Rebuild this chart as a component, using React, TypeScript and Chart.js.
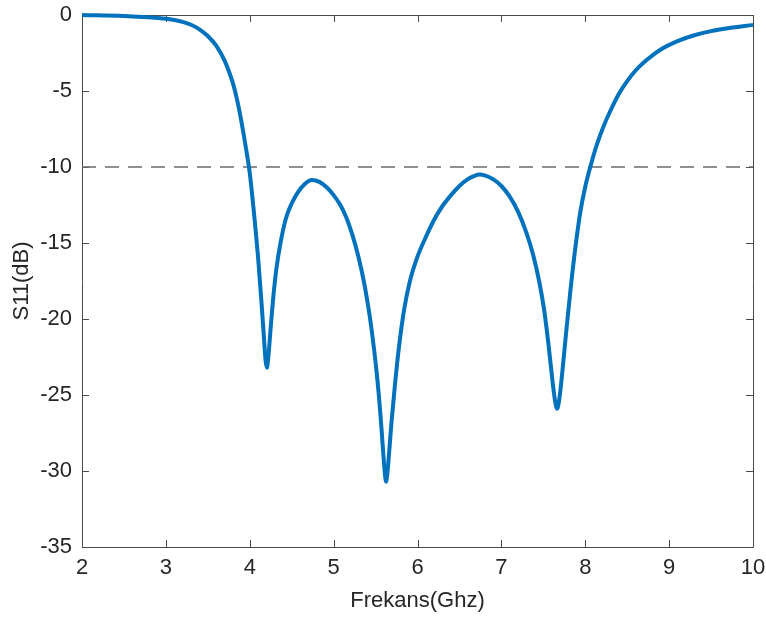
import React, { useEffect, useRef } from "react";
import { Chart, registerables } from "chart.js";

Chart.register(...registerables);

const freqGHz: number[] = [
  2.0, 2.5, 3.0, 3.1, 3.2, 3.3, 3.4, 3.5, 3.6, 3.7, 3.75, 3.8, 3.85, 3.9, 3.95, 4.0,
  4.05, 4.1, 4.14, 4.17, 4.19, 4.205, 4.22, 4.245, 4.28, 4.32, 4.37, 4.43, 4.5, 4.57,
  4.65, 4.74, 4.83, 4.92, 5.0, 5.08, 5.15, 5.22, 5.3, 5.37, 5.43, 5.48, 5.52, 5.56,
  5.59, 5.61, 5.625, 5.64, 5.66, 5.69, 5.73, 5.78, 5.84, 5.91, 6.0, 6.1, 6.2, 6.3,
  6.4, 6.5, 6.6, 6.68, 6.74, 6.8, 6.9, 7.0, 7.1, 7.2, 7.3, 7.38, 7.45, 7.51, 7.56,
  7.6, 7.635, 7.665, 7.695, 7.73, 7.77, 7.82, 7.88, 7.94, 8.0, 8.07, 8.14, 8.22, 8.3,
  8.4, 8.5, 8.6, 8.75, 8.9, 9.1, 9.3, 9.5, 9.7, 10.0,
];
const s11dB: number[] = [
  0, -0.07, -0.25, -0.33, -0.45, -0.64, -0.94, -1.38, -2.02, -3.0, -3.68, -4.5, -5.6, -7.0, -8.6, -10.4,
  -13.0, -16.0, -18.9, -21.3, -22.8, -23.2, -22.6, -20.9, -18.6, -16.6, -14.9, -13.4, -12.4, -11.7,
  -11.15, -10.86, -10.98, -11.35, -11.85, -12.5, -13.3, -14.4, -16.0, -17.8, -19.8, -21.9, -23.9, -26.4,
  -28.7, -30.1, -30.7, -30.2, -28.9, -26.8, -24.4, -21.8, -19.4, -17.5, -15.9, -14.6, -13.45, -12.55,
  -11.85, -11.25, -10.8, -10.58, -10.5, -10.55, -10.8, -11.25, -11.95, -12.95, -14.35, -15.8, -17.5, -19.4, -21.6,
  -23.6, -25.2, -25.9, -25.1, -23.3, -21.0, -18.3, -15.4, -13.0, -11.3, -9.8, -8.5, -7.3, -6.3,
  -5.2, -4.35, -3.65, -2.88, -2.27, -1.72, -1.33, -1.06, -0.87, -0.65,
];
const thresholdX: number[] = [2, 10];
const thresholdY: number[] = [-10, -10];

const xTitle = "Frekans(Ghz)";
const yTitle = "S11(dB)";

const boxPlugin = {
  id: "matlabBox",
  beforeDatasetsDraw(chart: any) {
    const { ctx, chartArea } = chart;
    const { left, right, top, bottom } = chartArea;
    const xs = chart.scales.x;
    const ys = chart.scales.y;
    const tl = 7;
    ctx.save();
    ctx.strokeStyle = "#4a4a4a";
    ctx.lineWidth = 1;
    ctx.beginPath();
    ctx.rect(Math.round(left) + 0.5, Math.round(top) + 0.5, Math.round(right - left), Math.round(bottom - top));
    xs.ticks.forEach((t: any) => {
      const px = Math.round(xs.getPixelForValue(t.value)) + 0.5;
      ctx.moveTo(px, bottom);
      ctx.lineTo(px, bottom - tl);
      ctx.moveTo(px, top);
      ctx.lineTo(px, top + tl);
    });
    ys.ticks.forEach((t: any) => {
      const py = Math.round(ys.getPixelForValue(t.value)) + 0.5;
      ctx.moveTo(left, py);
      ctx.lineTo(left + tl, py);
      ctx.moveTo(right, py);
      ctx.lineTo(right - tl, py);
    });
    ctx.stroke();
    ctx.restore();
  },
};

export default function App() {
  const ref = useRef<HTMLCanvasElement | null>(null);

  useEffect(() => {
    document.body.style.margin = "0";
    if (!ref.current) return;
    Chart.defaults.font.family = "'Liberation Sans', Arial, sans-serif";
    const chart = new Chart(ref.current, {
      type: "line",
      data: {
        datasets: [
          {
            data: freqGHz.map((f, i) => ({ x: f, y: s11dB[i] })),
            borderColor: "#0072BD",
            borderWidth: 4,
            pointRadius: 0,
            cubicInterpolationMode: "monotone",
            clip: false as any,
          },
          {
            data: thresholdX.map((f, i) => ({ x: f, y: thresholdY[i] })),
            borderColor: "#6a6a6a",
            borderWidth: 1.4,
            borderDash: [14, 9],
            pointRadius: 0,
          },
        ],
      },
      options: {
        animation: false,
        responsive: false,
        layout: { padding: { left: 0, right: 13, top: 15, bottom: 0 } },
        plugins: { legend: { display: false }, tooltip: { enabled: false } },
        scales: {
          x: {
            type: "linear",
            min: 2,
            max: 10,
            ticks: { stepSize: 1, padding: 8, color: "#262626", font: { size: 22 } },
            grid: { display: false, drawTicks: false },
            border: { display: false },
            title: {
              display: true,
              text: xTitle,
              color: "#262626",
              font: { size: 22 },
              padding: { top: 0, bottom: 3 },
            },
            afterFit(scale: any) {
              scale.height = 70;
              scale.paddingLeft = 0;
              scale.paddingRight = 0;
            },
          },
          y: {
            type: "linear",
            min: -35,
            max: 0,
            ticks: { stepSize: 5, padding: 10, color: "#262626", font: { size: 22 } },
            grid: { display: false, drawTicks: false },
            border: { display: false },
            title: {
              display: true,
              text: yTitle,
              color: "#262626",
              font: { size: 22 },
              padding: { top: 9, bottom: 0 },
            },
            afterFit(scale: any) {
              scale.width = 82;
              scale.paddingTop = 0;
              scale.paddingBottom = 0;
            },
          },
        },
      },
      plugins: [boxPlugin],
    });
    return () => chart.destroy();
  }, []);

  return (
    <div style={{ width: 766, height: 617 }}>
      <canvas ref={ref} width={766} height={617} style={{ display: "block" }} />
    </div>
  );
}
